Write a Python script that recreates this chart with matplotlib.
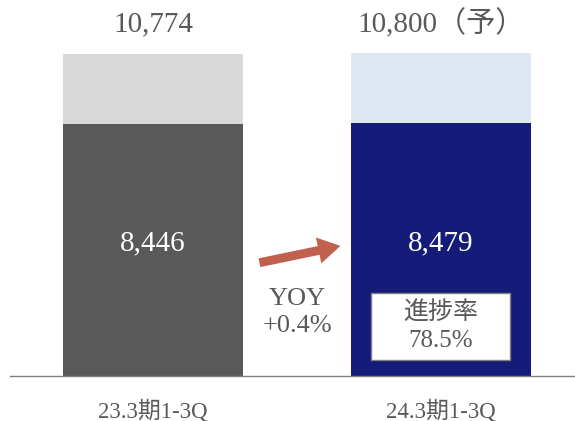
import matplotlib.pyplot as plt
from matplotlib.patches import Rectangle

# data
categories = ["23.3期1-3Q", "24.3期1-3Q"]
actual = [8446, 8479]
full_year = [10774, 10800]
top_labels = ["10,774", "10,800（予）"]
inner_labels = ["8,446", "8,479"]
yoy_text = "YOY\n+0.4%"
progress_text = "進捗率\n78.5%"

GRAY = "#595959"
FONT = ["Liberation Serif", "Noto Sans CJK JP"]
plt.rcParams["font.family"] = FONT

fig = plt.figure(figsize=(5.75, 4.21), dpi=100)
ax = fig.add_axes([0.0174, 0.107, 0.9826, 0.8518])

x = [0, 1]
w = 0.625
ax.bar(x, actual, w, color=["#595959", "#141B78"])
ax.bar(x, [f - a for f, a in zip(full_year, actual)], w, bottom=actual,
       color=["#D9D9D9", "#DFE7F2"])

ax.set_xlim(-0.4965, 1.465)
ax.set_ylim(0, 12000)

for xi, tot, lab in zip(x, full_year, top_labels):
    ax.annotate(lab, (xi, tot), xytext=(0, 21), textcoords="offset points",
                ha="center", va="center", fontsize=21, color=GRAY)
for xi, val, lab in zip(x, actual, inner_labels):
    ax.text(xi, val * 0.5 + 200, lab, ha="center", va="center",
            fontsize=21, color="white")

# growth arrow between the bars
ax.annotate("", xy=(0.66, 4370), xytext=(0.36, 3770),
            arrowprops=dict(arrowstyle="simple,head_length=0.8,head_width=0.95,tail_width=0.32",
                            mutation_scale=20, color="#C0604D", lw=0))
ax.text(0.5, 2110, yoy_text, ha="center", va="center", fontsize=19,
        color=GRAY, linespacing=1.3)

# progress box
ax.add_patch(Rectangle((0.757, 535), 0.483, 2240, facecolor="white",
                       edgecolor="#7F7F7F", lw=1, zorder=3))
ax.text(1.0, 1650, progress_text, ha="center", va="center", fontsize=18,
        color=GRAY, linespacing=1.3, zorder=4)

ax.set_xticks(x)
ax.set_xticklabels(categories, fontsize=16.5, color=GRAY)
ax.tick_params(axis="x", length=0, pad=17)
ax.set_yticks([])
for s in ["top", "right", "left"]:
    ax.spines[s].set_visible(False)
ax.spines["bottom"].set_color("#7F7F7F")
ax.spines["bottom"].set_linewidth(1)

fig.savefig("out.png", dpi=100)
